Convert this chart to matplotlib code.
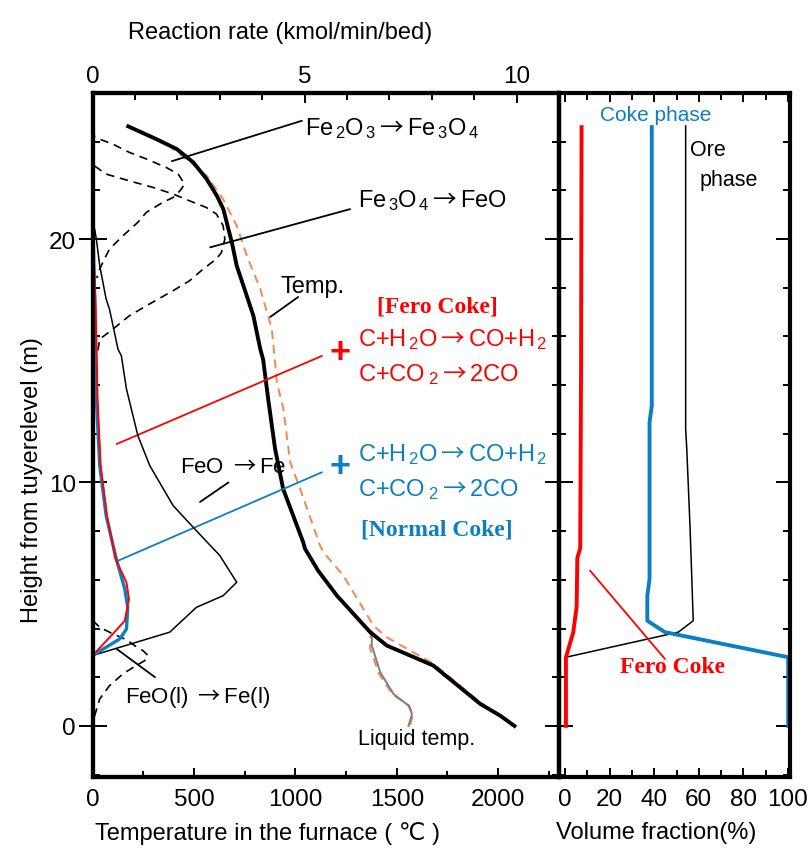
import matplotlib
matplotlib.use("Agg")
import matplotlib.pyplot as plt
from matplotlib.ticker import MultipleLocator, FixedLocator

plt.rcParams['font.family'] = ['Liberation Sans', 'DejaVu Sans']
plt.rcParams['mathtext.fontset'] = 'custom'
plt.rcParams['mathtext.rm'] = 'Liberation Sans'
plt.rcParams['mathtext.it'] = 'Liberation Sans:italic'
plt.rcParams['mathtext.bf'] = 'Liberation Sans:bold'
plt.rcParams['mathtext.sf'] = 'Noto Sans CJK JP'   # full-width arrow

RED = '#ff0000'
BLUE = '#0b7fc2'
ORANGE = '#f5874a'
GRAY = '#808080'
SERIF = ['Liberation Serif', 'DejaVu Serif']
ARR = '$\\mathsf{\\rightarrow}$'

# temperature profiles (deg C vs height m)
temp_h = [24.63, 24.1, 23.7, 23.15, 22.46, 21.78, 21.23, 20.41, 19.86, 18.9, 18.08,
          16.85, 15.48, 15.06, 13.43, 11.38, 9.73, 7.56, 7.27, 6.38, 5.35, 3.85, 3.30,
          2.48, 0.90, 0.42, 0.0]
temp_solid = [176, 316, 415, 497, 563, 613, 645, 670, 687, 711, 744,
              793, 827, 841, 866, 900, 940, 1038, 1048, 1112, 1205, 1369, 1451,
              1680, 1912, 2010, 2080]
temp2_h = [24.63, 24.0, 23.16, 22.6, 21.64, 20.55, 19.31, 17.95, 16.3, 14.11, 13.02, 10.84,
           9.73, 7.40, 7.13, 6.17, 4.12, 3.64, 2.55, 0.97, 0.0]
temp_dashed = [176, 350, 481, 563, 644, 711, 761, 827, 884, 909, 941, 974,
               1024, 1122, 1139, 1237, 1385, 1451, 1681, 1912, 2080]
liq_h = [3.85, 3.30, 2.21, 1.31, 0.83, 0.49, 0.0]
liq_temp = [1377, 1377, 1418, 1484, 1558, 1575, 1558]
liq2_h = [3.95, 3.20, 2.15, 1.28, 0.85, 0.45, 0.0]
liq_temp2 = [1372, 1368, 1412, 1480, 1560, 1580, 1565]

# reaction rates (kmol/min/bed vs height m)
hem_h = [24.5, 24.18, 23.9, 23.56, 23.29, 22.94, 22.67, 22.26, 21.98, 21.71, 21.51,
         21.1, 20.69, 20.14, 19.59, 19.18, 18.77, 18.4]
hem_rate = [0.02, 0.05, 0.48, 0.87, 1.27, 1.74, 2.02, 2.17, 2.06, 1.90, 1.66,
            1.27, 1.07, 0.72, 0.40, 0.28, 0.17, 0.10]
mag_h = [23.0, 22.67, 22.39, 22.12, 21.85, 21.57, 21.3, 21.03, 20.55, 20.0, 19.45,
         19.18, 18.77, 18.29, 17.88, 17.26, 16.85, 16.3, 15.89, 15.35]
mag_rate = [0.05, 0.32, 0.87, 1.43, 1.90, 2.29, 2.68, 2.92, 3.08, 3.12, 3.04,
            2.92, 2.61, 2.29, 1.90, 1.27, 0.87, 0.48, 0.17, 0.12]
wus_h = [20.4, 20.0, 18.9, 17.54, 17.12, 15.48, 15.2, 13.84, 11.92, 10.69, 9.05,
         8.09, 7.0, 5.9, 5.35, 4.87, 3.85, 2.89]
wus_rate = [0.05, 0.09, 0.17, 0.32, 0.40, 0.60, 0.68, 0.80, 1.07, 1.35, 1.90,
            2.41, 3.00, 3.40, 3.08, 2.45, 1.82, 0.0]
liqred_h = [4.32, 4.05, 3.78, 3.54, 3.30, 3.09, 2.89, 2.68, 2.48, 2.14, 1.65, 1.11, 0.42, 0.0]
liqred_rate = [0.01, 0.17, 0.48, 0.80, 0.99, 1.19, 1.31, 1.23, 1.03, 0.72, 0.40, 0.17, 0.05, 0.01]
gas_h = [24.6, 19.6, 17.5, 13.4, 10.7, 8.64, 6.86, 5.63, 4.87, 3.98, 3.57, 2.89, 0.0]
gas_normal = [0.0, 0.02, 0.05, 0.09, 0.17, 0.32, 0.56, 0.76, 0.83, 0.80, 0.64, 0.0, 0.0]
gas_fero_h = [24.7, 19.6, 17.5, 13.4, 10.7, 8.64, 6.86, 5.9, 5.2, 4.32, 3.78, 2.89, 0.0]
gas_fero = [0.0, 0.02, 0.07, 0.12, 0.19, 0.34, 0.54, 0.80, 0.86, 0.76, 0.48, 0.0, 0.0]

# volume fractions (% vs height m)
fero_h = [24.6, 15.0, 7.3, 6.9, 4.9, 3.85, 2.82, 0.0]
fero_frac = [7.4, 7.2, 6.8, 5.5, 5.2, 3.7, 0.4, 0.4]
coke_h = [24.6, 13.15, 12.47, 6.04, 5.35, 4.32, 3.85, 2.82, 0.0]
coke_frac = [38.9, 38.9, 37.9, 37.9, 36.9, 36.9, 44.8, 100.1, 100.1]
ore_h = [24.65, 12.2, 11.38, 8.09, 4.32, 3.85, 2.82]
ore_frac = [54.1, 54.1, 54.6, 56.1, 57.5, 50.8, 0.4]

fig = plt.figure(figsize=(8.11, 8.54), dpi=100)
ax = fig.add_axes([0.1141, 0.0890, 0.5752, 0.8009])
ax_r = fig.add_axes([0.6893, 0.0890, 0.2848, 0.8009])
ax_r.patch.set_alpha(0)

# ---- left panel: temperatures
ax.plot(temp_dashed, temp2_h, color=ORANGE, lw=1.4, dashes=(4.5, 3))
ax.plot(liq_temp2, liq2_h, color=ORANGE, lw=1.4, dashes=(4.5, 3))
ax.plot(liq_temp, liq_h, color=GRAY, lw=1.4)
ax.plot(temp_solid, temp_h, color='black', lw=2.8)

ax.set_xlim(0, 2300)
ax.set_ylim(-2.1, 26)
ax.xaxis.set_major_locator(FixedLocator([0, 500, 1000, 1500, 2000]))
ax.xaxis.set_minor_locator(MultipleLocator(250))
ax.yaxis.set_major_locator(FixedLocator([0, 10, 20]))
ax.yaxis.set_minor_locator(MultipleLocator(2))
ax.tick_params(axis='x', which='both', direction='in', labelsize=17.5, pad=8)
ax.tick_params(axis='x', which='major', length=6.5, width=1.4)
ax.tick_params(axis='x', which='minor', length=4.5, width=1.4)
ax.tick_params(axis='y', which='major', direction='inout', length=20, width=1.4,
               right=True, labelsize=17.5, pad=2)
ax.tick_params(axis='y', which='minor', direction='in', length=5, width=1.4, right=True)
for s in ax.spines.values():
    s.set_linewidth(3)
ax.set_xlabel('Temperature in the furnace ( ℃ )', fontsize=17)
ax.set_ylabel('Height from tuyerelevel (m)', fontsize=17)
ax.yaxis.set_label_coords(-0.106, 0.436)
ax.xaxis.set_label_coords(0.375, -0.064)

# ---- left panel: reaction rates on top axis
ax_t = ax.twiny()
ax_t.plot(hem_rate, hem_h, color='black', lw=1.2, dashes=(5, 3.5))
ax_t.plot(mag_rate, mag_h, color='black', lw=1.2, dashes=(5, 3.5))
ax_t.plot(liqred_rate, liqred_h, color='black', lw=1.2, dashes=(5, 3.5))
ax_t.plot(wus_rate, wus_h, color='black', lw=1.1)
ax_t.plot(gas_normal, gas_h, color=BLUE, lw=2.4)
ax_t.plot(gas_fero, gas_fero_h, color=RED, lw=1.4)
ax_t.set_xlim(0, 11.0)
ax_t.xaxis.set_major_locator(FixedLocator([0, 5, 10]))
ax_t.xaxis.set_minor_locator(MultipleLocator(1))
ax_t.tick_params(axis='x', which='both', direction='in', labelsize=17.5, pad=4)
ax_t.tick_params(axis='x', which='major', length=7, width=1.4)
ax_t.tick_params(axis='x', which='minor', length=5, width=1.4)
for s in ax_t.spines.values():
    s.set_linewidth(3)
ax_t.set_xlabel('Reaction rate (kmol/min/bed)', fontsize=17)
ax_t.xaxis.set_label_coords(0.402, 1.08)


def leader(a, p1, p2, color='black', lw=1.3):
    a.annotate('', xy=p1, xytext=p2,
               arrowprops=dict(arrowstyle='-', color=color, lw=lw, shrinkA=0, shrinkB=0))


leader(ax, (391, 23.2), (1032, 24.86))
ax.text(1048, 24.6, 'Fe$_{\\,2}$O$_{\\,3}$' + ARR + 'Fe$_{\\,3}$O$_{\\,4}$', fontsize=17, va='center')
leader(ax, (580, 19.66), (1270, 21.23))
ax.text(1310, 21.64, 'Fe$_{\\,3}$O$_{\\,4}$' + ARR + 'FeO', fontsize=17, va='center')
leader(ax, (876, 16.8), (1014, 17.62))
ax.text(925, 18.07, 'Temp.', fontsize=17, va='center')

ax.text(1702, 17.26, '[Fero Coke]', fontsize=17, color=RED, family=SERIF,
        weight='bold', ha='center', va='center')
ax.text(1310, 15.93, 'C+H$_{\\,2}$O' + ARR + 'CO+H$_{\\,2}$', fontsize=17, color=RED, va='center')
ax.text(1310, 14.46, 'C+CO$_{\\;2}$' + ARR + '2CO', fontsize=17, color=RED, va='center')
ax.text(1221, 15.36, '+', fontsize=26, color=RED, weight='bold', ha='center', va='center')
leader(ax, (119, 11.58), (1131, 15.2), color=RED)

ax.text(1310, 11.17, 'C+H$_{\\,2}$O' + ARR + 'CO+H$_{\\,2}$', fontsize=17, color=BLUE, va='center')
ax.text(1310, 9.73, 'C+CO$_{\\;2}$' + ARR + '2CO', fontsize=17, color=BLUE, va='center')
ax.text(1697, 8.09, '[Normal Coke]', fontsize=17, color=BLUE, family=SERIF,
        weight='bold', ha='center', va='center')
ax.text(1221, 10.64, '+', fontsize=26, color=BLUE, weight='bold', ha='center', va='center')
leader(ax, (127, 6.79), (1131, 10.42), color=BLUE)

ax.text(432, 10.64, 'FeO ' + ARR + 'Fe', fontsize=16, va='center')
leader(ax, (530, 9.2), (670, 10.0))
ax.text(160, 1.19, 'FeO(l) ' + ARR + 'Fe(l)', fontsize=16, va='center')
leader(ax, (119, 3.16), (308, 2.0))
ax.text(1310, -0.53, 'Liquid temp.', fontsize=15.5, va='center')

# ---- right panel: volume fractions
ax_r.plot(ore_frac, ore_h, color='black', lw=1.1)
ax_r.plot(coke_frac, coke_h, color=BLUE, lw=2.8)
ax_r.plot(fero_frac, fero_h, color=RED, lw=2.8)
ax_r.set_xlim(-2.7, 100.9)
ax_r.set_ylim(-2.1, 26)
ax_r.xaxis.set_major_locator(FixedLocator([0, 20, 40, 60, 80, 100]))
ax_r.xaxis.set_minor_locator(MultipleLocator(10))
ax_r.yaxis.set_major_locator(FixedLocator([0, 10, 20]))
ax_r.yaxis.set_minor_locator(MultipleLocator(2))
ax_r.tick_params(axis='x', which='both', direction='in', top=True, labelsize=17.5, pad=8)
ax_r.tick_params(axis='x', which='major', length=6.5, width=1.4)
ax_r.tick_params(axis='x', which='minor', length=5, width=1.4)
ax_r.tick_params(axis='y', which='major', direction='in', length=10, width=1.4,
                 right=True, labelleft=False)
ax_r.tick_params(axis='y', which='minor', direction='in', length=5, width=1.4, right=True)
for s in ax_r.spines.values():
    s.set_linewidth(3)
ax_r.set_xlabel('Volume fraction(%)', fontsize=17)
ax_r.xaxis.set_label_coords(0.422, -0.064)

ax_r.text(40.8, 25.13, 'Coke phase', fontsize=15, color=BLUE, ha='center', va='center')
ax_r.text(56, 23.7, 'Ore', fontsize=15.5, va='center')
ax_r.text(60.5, 22.46, 'phase', fontsize=15.5, va='center')
leader(ax_r, (11.2, 6.38), (44.8, 2.75), color=RED)
ax_r.text(48, 2.46, 'Fero Coke', fontsize=17, color=RED, family=SERIF,
          weight='bold', ha='center', va='center')

fig.savefig('out.png', dpi=100)
